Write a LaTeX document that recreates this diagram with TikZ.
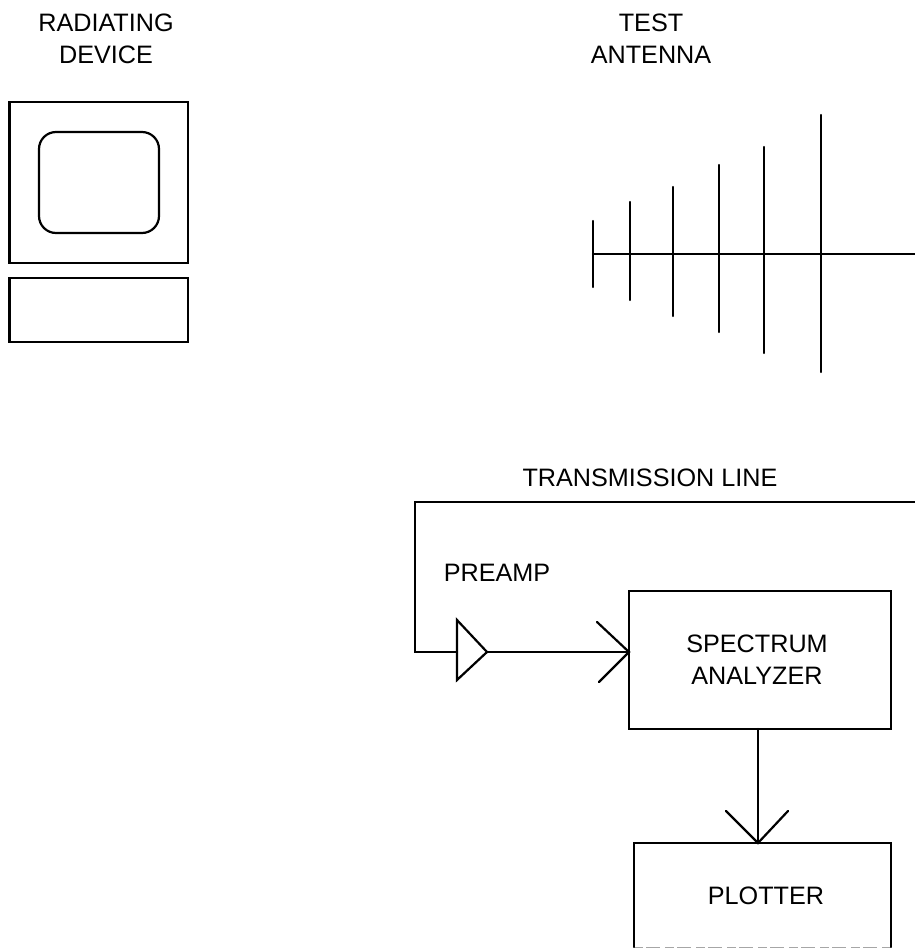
\documentclass[tikz,border=0pt]{standalone}
\usepackage{fontspec}
\setmainfont{Liberation Sans}
\begin{document}
\begin{tikzpicture}[x=1pt,y=-1pt,
  ln/.style={draw=black,line width=2.2pt,line cap=round,line join=miter},
  lab/.style={font=\fontsize{25.2}{32}\selectfont,align=center,inner sep=0pt,text=black},
  blk/.style={ln,inner sep=0pt,outer sep=0pt,anchor=north west}]
\useasboundingbox (0,0) rectangle (915,948);
\node[lab] (rd) at (106,39) {RADIATING\\DEVICE};
\node[lab] (ta) at (651,39) {TEST\\ANTENNA};
\node[lab] (tl) at (650,478) {TRANSMISSION LINE};
\node[lab] (pa) at (497,573) {PREAMP};
\node[blk,minimum width=178.5pt,minimum height=161pt] (mon) at (9.5,102) {};
\node[blk,minimum width=120pt,minimum height=101pt,rounded corners=17pt] (scr) at (39,132) {};
\node[blk,minimum width=178.5pt,minimum height=64pt] (kbd) at (9.5,278) {};
\node[blk,minimum width=262pt,minimum height=138pt] (sa) at (629,591) {};
\node[lab] (satx) at (757,659.5) {SPECTRUM\\ANALYZER};
\node[inner sep=0pt,outer sep=0pt,anchor=north west,minimum width=257pt,minimum height=104pt] (pl) at (634,843) {};
\draw[draw=black!35,line width=1pt,dash pattern=on 9pt off 3pt on 14pt off 5pt] (pl.south west) -- (pl.south east);
\draw[ln] (pl.south west) -- (pl.north west) -- (pl.north east) -- (pl.south east);
\node[lab] (pltx) at (766,896) {PLOTTER};
\coordinate (boom0) at (593,254);
\coordinate (boom1) at (915,254);
\draw[ln] (boom0) -- (boom1);
\foreach \x/\a/\b in {593/221/287,630/202/300,673/187/316,719/165/332,764/147/353,821/115/372}
  \draw[ln] (\x,\a) -- (\x,\b);
\coordinate (tlr) at (915,502);
\coordinate (tlt) at (415,502);
\coordinate (tlb) at (415,652);
\coordinate (ampa) at (457,620);
\coordinate (ampb) at (457,680);
\coordinate (ampc) at (487,652);
\coordinate (ampi) at (457,652);
\coordinate (satip) at (629,652);
\draw[ln] (tlr) -- (tlt) -- (tlb) -- (ampi);
\draw[ln] (ampa) -- (ampc) -- (ampb) -- cycle;
\draw[ln] (ampc) -- (satip);
\draw[ln] (597,622) -- (satip) -- (599,682);
\coordinate (sab) at (758,729);
\coordinate (plt) at (758,843);
\draw[ln] (sab) -- (plt);
\draw[ln] (726,811) -- (plt) -- (788,811);
\end{tikzpicture}
\end{document}
